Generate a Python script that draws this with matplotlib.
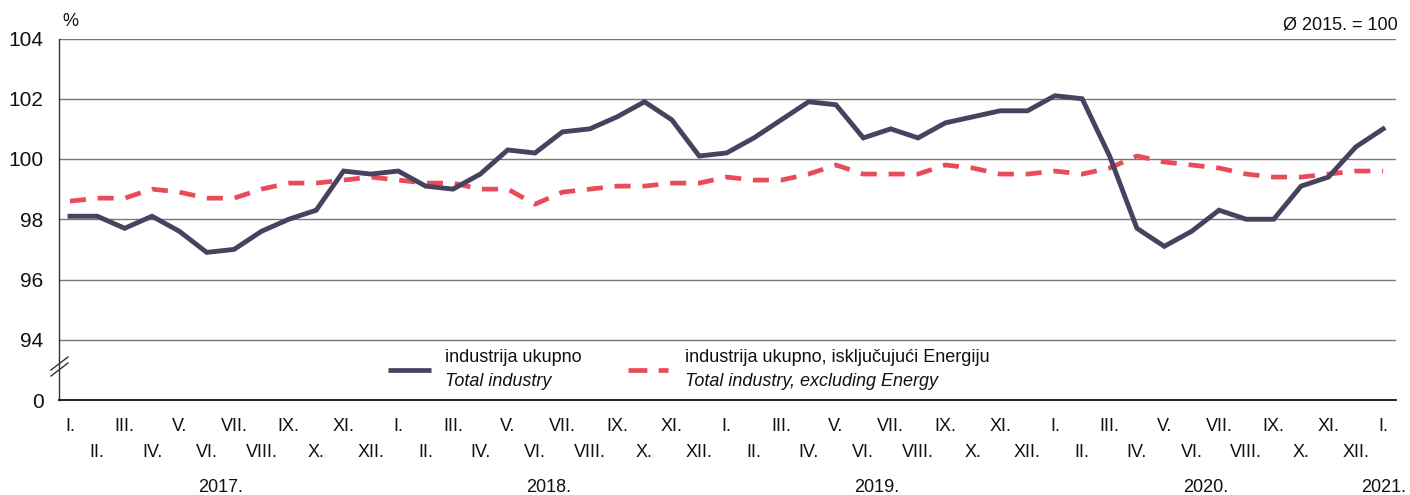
import matplotlib
matplotlib.use("Agg")
import matplotlib.pyplot as plt
from matplotlib.lines import Line2D
import matplotlib.transforms as mtransforms

plt.rcParams['font.family'] = ['Liberation Sans Narrow', 'Liberation Sans', 'DejaVu Sans']

months = ["I.", "II.", "III.", "IV.", "V.", "VI.", "VII.", "VIII.", "IX.", "X.", "XI.", "XII."]
years = ["2017.", "2018.", "2019.", "2020.", "2021."]

total_industry = [
    98.1, 98.1, 97.7, 98.1, 97.6, 96.9, 97.0, 97.6, 98.0, 98.3, 99.6, 99.5,
    99.6, 99.1, 99.0, 99.5, 100.3, 100.2, 100.9, 101.0, 101.4, 101.9, 101.3, 100.1,
    100.2, 100.7, 101.3, 101.9, 101.8, 100.7, 101.0, 100.7, 101.2, 101.4, 101.6, 101.6,
    102.1, 102.0, 100.1, 97.7, 97.1, 97.6, 98.3, 98.0, 98.0, 99.1, 99.4, 100.4,
    101.0,
]
excl_energy = [
    98.6, 98.7, 98.7, 99.0, 98.9, 98.7, 98.7, 99.0, 99.2, 99.2, 99.3, 99.4,
    99.3, 99.2, 99.2, 99.0, 99.0, 98.5, 98.9, 99.0, 99.1, 99.1, 99.2, 99.2,
    99.4, 99.3, 99.3, 99.5, 99.8, 99.5, 99.5, 99.5, 99.8, 99.7, 99.5, 99.5,
    99.6, 99.5, 99.7, 100.1, 99.9, 99.8, 99.7, 99.5, 99.4, 99.4, 99.5, 99.6,
    99.6,
]
y_ticks = [92, 94, 96, 98, 100, 102, 104]
y_tick_labels = ["0", "94", "96", "98", "100", "102", "104"]

label_total = ("industrija ukupno", "Total industry")
label_excl = ("industrija ukupno, isključujući Energiju", "Total industry, excluding Energy")

C_TOTAL = "#46435F"
C_EXCL = "#E84C5B"
W, H = 1410, 495

fig = plt.figure(figsize=(14.1, 4.95), dpi=100)
ax = fig.add_axes([59 / W, 1 - 400 / H, (1396 - 59) / W, (400 - 38.5) / H])

n = len(total_industry)
x = list(range(n))
ax.plot(x, excl_energy, color=C_EXCL, lw=3.4, dashes=(3.4, 2.5), dash_capstyle='butt',
        solid_joinstyle='miter', zorder=3)
ax.plot(x, total_industry, color=C_TOTAL, lw=3.5, solid_joinstyle='miter', zorder=4)

ax.set_xlim(-0.4, n - 1 + 0.47)
ax.set_ylim(92, 104)
ax.set_yticks(y_ticks)
ax.set_yticklabels(y_tick_labels, fontsize=15)
for v in y_ticks[1:]:
    ax.axhline(v, color="#777777", lw=1.0, zorder=1)

for s in ["top", "right"]:
    ax.spines[s].set_visible(False)
ax.spines["left"].set_color("#333333")
ax.spines["left"].set_linewidth(1.0)
ax.spines["bottom"].set_color("#111111")
ax.spines["bottom"].set_linewidth(1.3)
ax.tick_params(axis="y", length=0, pad=11, colors="#111111")

# month labels in two rows
odd_pos = [i for i in x if i % 2 == 0]
even_pos = [i for i in x if i % 2 == 1]
ax.set_xticks(odd_pos)
ax.set_xticklabels([months[i % 12] for i in odd_pos], fontsize=13)
ax.set_xticks(even_pos, minor=True)
ax.set_xticklabels([months[i % 12] for i in even_pos], minor=True, fontsize=13)
ax.tick_params(axis="x", which="major", length=0, pad=13, colors="#111111")
ax.tick_params(axis="x", which="minor", length=0, pad=31.5, colors="#111111")

# year labels
trans = mtransforms.blended_transform_factory(ax.transData, fig.transFigure)
for k, yr in enumerate(years):
    if k < len(years) - 1:
        xc = 12 * k + 5.5
    else:
        xc = 12 * k
    ax.text(xc, 1 - 488 / H, yr, transform=trans, ha="center", va="center",
            fontsize=13, color="#111111")

# axis break mark
for dy in (0, 6):
    fig.add_artist(Line2D([51 / W, 68 / W], [1 - (376 - dy) / H, 1 - (363 - dy) / H],
                          color="#333333", lw=1.0))

fig.text(62 / W, 1 - 22 / H, "%", fontsize=13, va="center", ha="left", color="#111111")
fig.text(1398 / W, 1 - 25 / H, "Ø 2015. = 100", fontsize=13, va="center", ha="right",
         color="#111111")

# legend
fig.add_artist(Line2D([388 / W, 431 / W], [1 - 370 / H] * 2, color=C_TOTAL, lw=3.4,
                      solid_capstyle='butt'))
fig.add_artist(Line2D([628 / W, 668 / W], [1 - 370 / H] * 2, color=C_EXCL, lw=3.4,
                      dashes=(4.0, 2.4), dash_capstyle='butt'))
fig.text(445 / W, 1 - 357 / H, label_total[0], fontsize=13, va="center", ha="left", color="#111111")
fig.text(445 / W, 1 - 381 / H, label_total[1], fontsize=13, va="center", ha="left",
         style="italic", color="#111111")
fig.text(685 / W, 1 - 357 / H, label_excl[0], fontsize=13, va="center", ha="left", color="#111111")
fig.text(685 / W, 1 - 381 / H, label_excl[1], fontsize=13, va="center", ha="left",
         style="italic", color="#111111")

fig.savefig("out.png", dpi=100, facecolor="white")
